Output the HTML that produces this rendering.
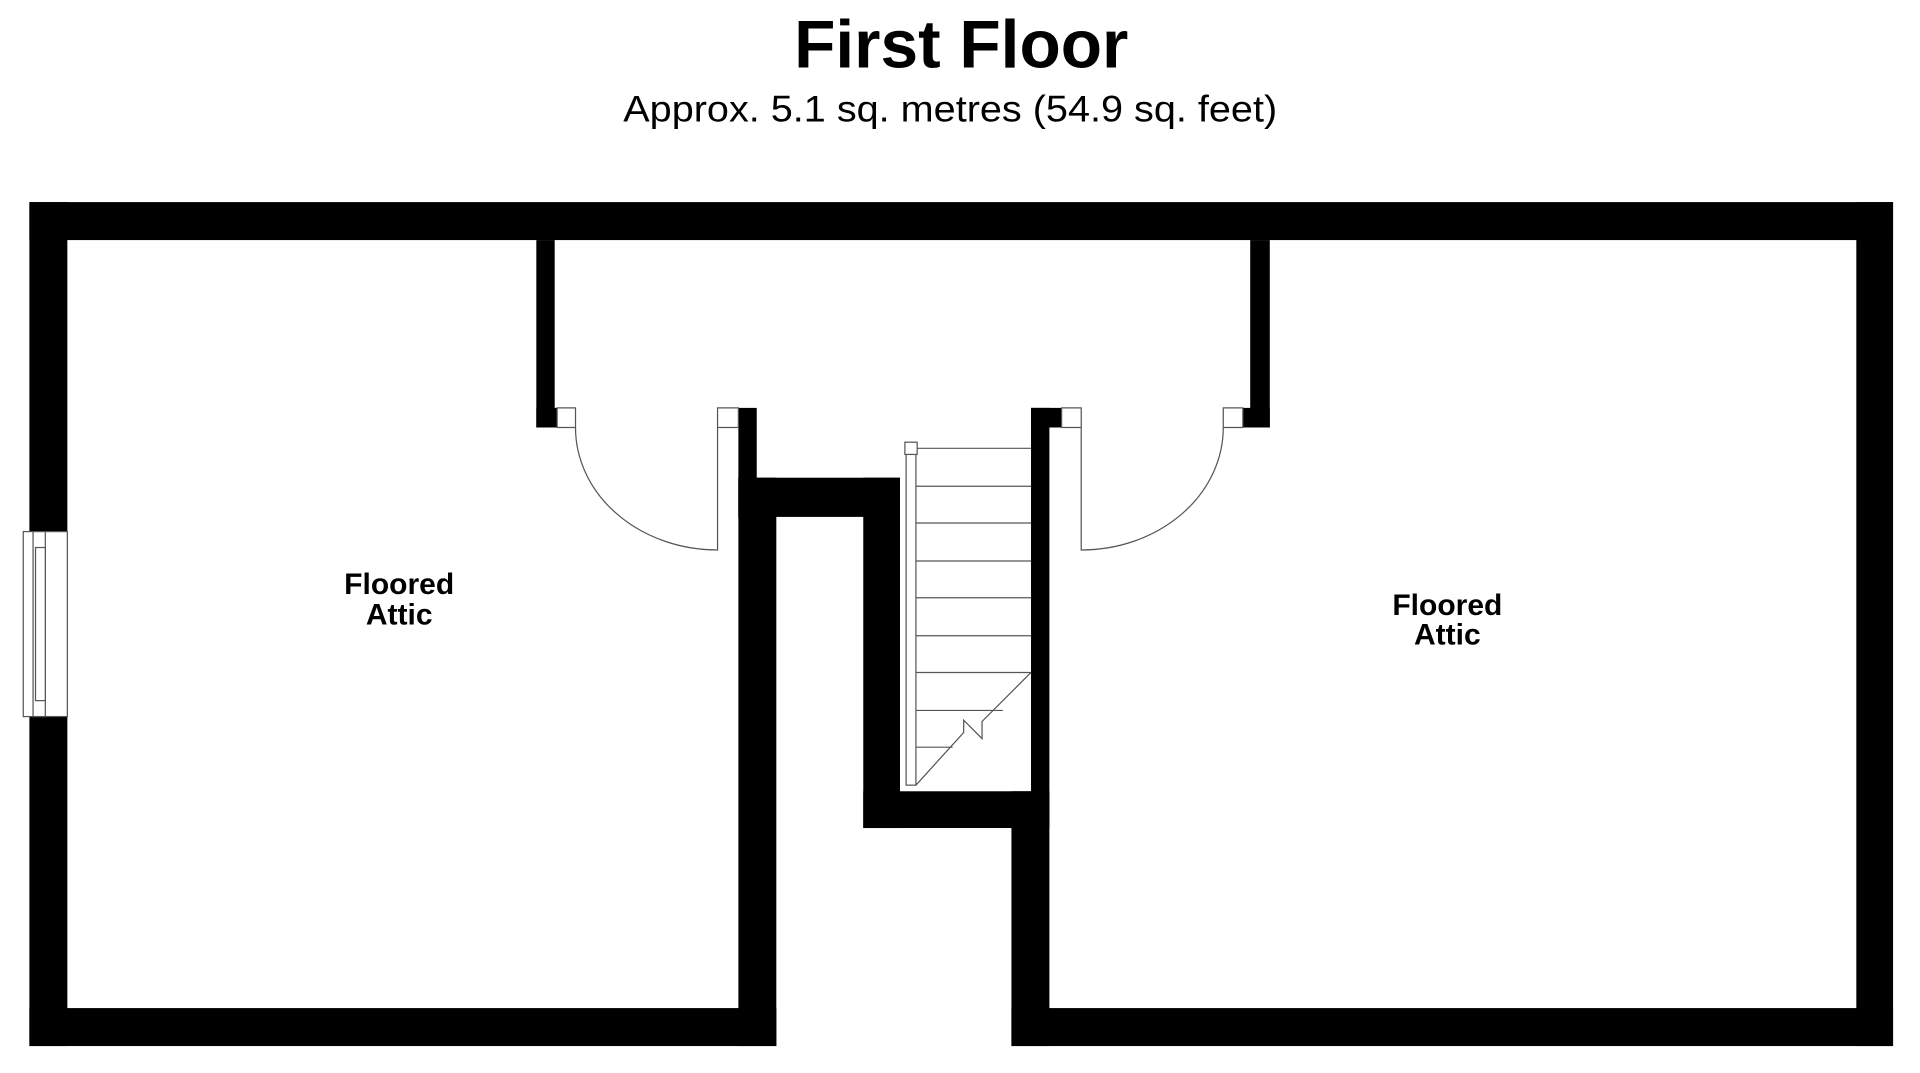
<!DOCTYPE html>
<html><head><meta charset="utf-8"><style>
html,body{margin:0;padding:0;background:#fff;width:1920px;height:1073px;overflow:hidden}
svg{display:block}
</style></head><body>
<svg width="1920" height="1073" viewBox="0 0 1568 876" preserveAspectRatio="none" xmlns="http://www.w3.org/2000/svg" font-family="Liberation Sans, Arial, sans-serif">
<rect width="1568" height="876" fill="#fff"/>
<text x="785" y="55" text-anchor="middle" font-size="55" font-weight="bold" textLength="273" lengthAdjust="spacingAndGlyphs">First Floor</text>
<text x="776" y="99" text-anchor="middle" font-size="30" textLength="534" lengthAdjust="spacingAndGlyphs">Approx. 5.1 sq. metres (54.9 sq. feet)</text>
<g fill="#000">
<!-- outer walls -->
<rect x="24" y="165" width="1522" height="31"/>
<rect x="24" y="165" width="31" height="689"/>
<rect x="1516" y="165" width="30" height="689"/>
<rect x="24" y="823" width="610" height="31"/>
<rect x="826" y="823" width="720" height="31"/>
<!-- partitions -->
<rect x="438" y="196" width="15" height="153"/>
<rect x="438" y="333" width="17" height="16"/>
<rect x="1021" y="196" width="16" height="153"/>
<rect x="1015" y="333" width="22" height="16"/>
<!-- middle wall -->
<rect x="603" y="333" width="15" height="90"/>
<rect x="603" y="390" width="132" height="32"/>
<rect x="603" y="390" width="31" height="464"/>
<rect x="705" y="390" width="30" height="286"/>
<rect x="705" y="646" width="152" height="30"/>
<rect x="826" y="646" width="31" height="208"/>
<rect x="842" y="333" width="15" height="343"/>
<rect x="842" y="333" width="25" height="16"/>
</g>
<g fill="#fff" stroke="#555" stroke-width="1">
<rect x="455" y="333" width="15" height="16"/>
<rect x="586" y="333" width="17" height="16"/>
<rect x="867" y="333" width="16" height="16"/>
<rect x="999" y="333" width="16" height="16"/>
<!-- window -->
<rect x="19" y="434" width="36" height="151"/>
<rect x="27" y="434" width="10" height="151"/>
<rect x="29" y="447" width="8" height="125"/>
</g>
<g fill="none" stroke="#555" stroke-width="1">
<path d="M470 349 A116 100 0 0 0 586 449 L586 349"/>
<path d="M883 349 L883 449 A116 100 0 0 0 999 349"/>
<!-- stairs -->
<path d="M748 366 H842 M748 397 H842 M748 427 H842 M748 458 H842 M748 488 H842 M748 519 H842 M748 549 H842 M748 580 H819 M748 610 H778"/>
<path d="M842 549 L802 589 L802 603 L787 588 L787 598 L748 641"/>
<rect x="740" y="370" width="8" height="271" fill="#fff"/>
<rect x="739" y="361" width="10" height="10" fill="#fff"/>
</g>
<g font-size="24.5" font-weight="bold" text-anchor="middle">
<text x="326" y="485">Floored</text>
<text x="326" y="510">Attic</text>
<text x="1182" y="502">Floored</text>
<text x="1182" y="526">Attic</text>
</g>
</svg>
</body></html>
